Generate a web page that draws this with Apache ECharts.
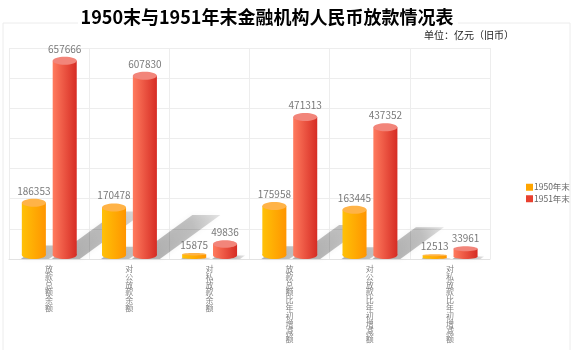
<!DOCTYPE html>
<html><head><meta charset="utf-8">
<script src="https://cdn.jsdelivr.net/npm/echarts@6/dist/echarts.min.js"></script>
<style>html,body{margin:0;padding:0;background:#fff}#c{width:576px;height:350px}</style>
</head><body><div id="c"></div>
<script>
var categories = ['放款总额余额','对公放款余额','对私放款余额','放款总额比年初增减额','对公放款比年初增减额','对私放款比年初增减额'];
var series1950 = [186353, 170478, 15875, 175958, 163445, 12513];
var series1951 = [657666, 607830, 49836, 471313, 437352, 33961];
var seriesNames = ['1950年末', '1951年末'];
var titleText = '1950末与1951年末金融机构人民币放款情况表';
var unitText = '单位：亿元（旧币）';

var chart = echarts.init(document.getElementById('c'));
var FONT = '"Noto Sans CJK SC","Noto Sans",sans-serif';

function cylinder(offsetFrac, bodyL, bodyR, capColor) {
  return function (params, api) {
    var idx = api.value(0), v = api.value(1);
    var c = api.coord([idx, v]);
    var b = api.coord([idx, 0]);
    var band = api.size([1, 0])[0];
    var w = band * 0.3;
    var cx = c[0] + offsetFrac * band;
    var top = c[1], bot = b[1];
    var h = bot - top;
    var capH = Math.min(8, h * 0.5);
    var grad = new echarts.graphic.LinearGradient(0, 0, 1, 0, [
      {offset: 0, color: bodyL}, {offset: 1, color: bodyR}]);
    return {
      type: 'group',
      children: [
        {type: 'rect', shape: {x: cx - w / 2, y: top, width: w, height: Math.max(0, h - capH / 2)}, style: {fill: grad}},
        {type: 'ellipse', shape: {cx: cx, cy: bot - capH / 2, rx: w / 2, ry: capH / 2}, style: {fill: grad}},
        {type: 'ellipse', shape: {cx: cx, cy: top, rx: w / 2, ry: capH / 2}, style: {fill: capColor}},
        {type: 'text', x: cx, y: top - capH / 2 - 3, style: {text: String(v), fill: '#7a7a7a', font: '10px ' + FONT, textAlign: 'center', textVerticalAlign: 'bottom'}}
      ]
    };
  };
}

function shadowItem(params, api) {
  var idx = api.value(0);
  var band = api.size([1, 0])[0];
  var w = band * 0.3;
  var children = [];
  [[api.value(1), -0.19], [api.value(2), 0.195]].forEach(function (p) {
    var c = api.coord([idx, p[0]]);
    var b = api.coord([idx, 0]);
    var cx = c[0] + p[1] * band;
    var h = b[1] - c[1];
    var dx = 0.33 * h, dy = 0.24 * h;
    var x1 = cx + w / 2 + 3, x0 = x1 - 28, yb = b[1];
    children.push({
      type: 'polygon',
      shape: {points: [[x0, yb], [x1, yb], [x1 + dx, yb - dy], [x0 + dx, yb - dy]]},
      style: {
        fill: new echarts.graphic.LinearGradient(0, 1, 1, 0, [
          {offset: 0, color: 'rgba(0,0,0,0.30)'}, {offset: 0.7, color: 'rgba(0,0,0,0.22)'}, {offset: 1, color: 'rgba(0,0,0,0.10)'}]),
        shadowBlur: 5, shadowColor: 'rgba(0,0,0,0.2)'
      }
    });
  });
  return {type: 'group', children: children};
}

var shadowData = categories.map(function (c, i) { return [i, series1950[i], series1951[i]]; });

chart.setOption({
  animation: false,
  backgroundColor: '#fff',
  graphic: [
    {type: 'rect', shape: {x: 3, y: 23, width: 567, height: 330}, style: {fill: 'none', stroke: '#ececec', lineWidth: 1}, z: 0},
    {type: 'rect', shape: {x: 78, y: 2, width: 380, height: 30}, style: {fill: '#fff'}, z: 1},
    {type: 'text', x: 267, y: 17, style: {text: titleText, font: 'bold 18px ' + FONT, fill: '#000', textAlign: 'center', textVerticalAlign: 'middle'}, z: 2},
    {type: 'text', x: 514, y: 35, style: {text: unitText, font: '10px ' + FONT, fill: '#222', textAlign: 'right', textVerticalAlign: 'middle'}, z: 2}
  ],
  legend: {
    data: seriesNames,
    orient: 'vertical',
    left: 521, top: 178,
    itemWidth: 7, itemHeight: 7, itemGap: 3,
    icon: 'rect',
    textStyle: {fontSize: 8.5, color: '#666', fontFamily: FONT, padding: [0, 0, 0, -4]}
  },
  grid: {left: 9, right: 86, top: 48, bottom: 91},
  xAxis: {
    type: 'category', data: categories,
    axisLine: {lineStyle: {color: '#e2e2e2'}},
    axisTick: {show: false},
    splitLine: {show: true, lineStyle: {color: '#ededed'}},
    axisLabel: {
      interval: 0, margin: 6, fontSize: 8, lineHeight: 7.8, color: '#7f7f7f', fontFamily: FONT,
      formatter: function (v) { return v.split('').join('\n'); }
    }
  },
  yAxis: {
    type: 'value', min: 0, max: 700000, interval: 100000,
    axisLabel: {show: false}, axisLine: {show: false}, axisTick: {show: false},
    splitLine: {lineStyle: {color: '#ededed'}}
  },
  series: [
    {type: 'custom', name: 'shadow', renderItem: shadowItem, data: shadowData, z: 1, silent: true},
    {type: 'custom', name: seriesNames[0], itemStyle: {color: '#FFA500'}, renderItem: cylinder(-0.19, '#FFC107', '#FF9500', '#FFB347'),
      data: series1950.map(function (v, i) { return [i, v]; }), z: 2},
    {type: 'custom', name: seriesNames[1], itemStyle: {color: '#E8402F'}, renderItem: cylinder(0.195, '#FF7B5E', '#D62C24', '#F2857A'),
      data: series1951.map(function (v, i) { return [i, v]; }), z: 2}
  ]
});
</script>
</body></html>
